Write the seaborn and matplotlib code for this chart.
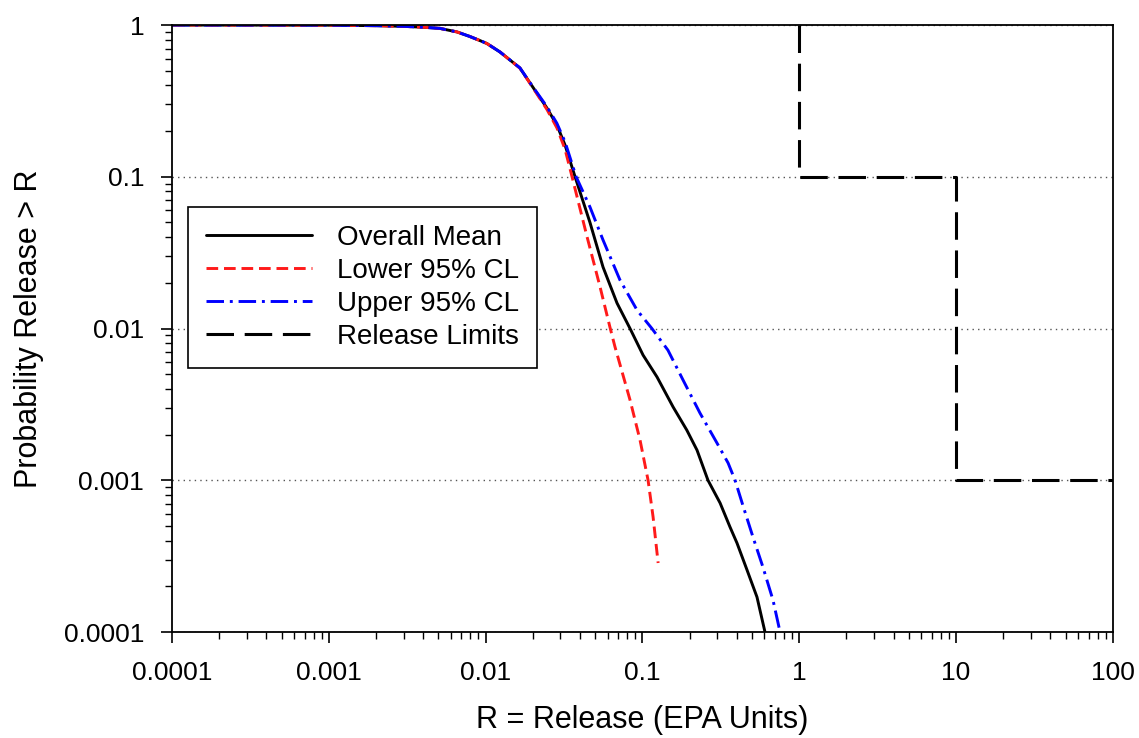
import numpy as np
import pandas as pd
import matplotlib
matplotlib.use("Agg")
import matplotlib.pyplot as plt
import seaborn as sns

# values (log-log CCDF of release)
mean_x = [1e-4, 0.001, 0.002, 0.003, 0.004, 0.00512, 0.00658, 0.00794, 0.0092, 0.0102, 0.01236,
          0.01655, 0.02, 0.0246, 0.0285, 0.0321, 0.0372, 0.0463, 0.0561, 0.0689, 0.0834, 0.101,
          0.124, 0.157, 0.192, 0.223, 0.262, 0.313, 0.362, 0.401, 0.465, 0.538, 0.605]
mean_y = [1.0, 0.998, 0.99, 0.98, 0.967, 0.95, 0.9, 0.84, 0.79, 0.755, 0.664,
          0.521, 0.39, 0.284, 0.219, 0.162, 0.1, 0.05, 0.0254, 0.0147, 0.01, 0.00668,
          0.00479, 0.00304, 0.00214, 0.00158, 0.001, 0.000708, 0.000492, 0.000386, 0.000256, 0.00017, 0.0001]

lower_x = [1e-4, 0.001, 0.002, 0.003, 0.004, 0.00512, 0.00658, 0.00794, 0.0092, 0.0102, 0.01236,
           0.01655, 0.02, 0.0246, 0.0285, 0.0321, 0.0356, 0.0444, 0.0537, 0.0621, 0.0668, 0.0834,
           0.0966, 0.1087, 0.117, 0.126]
lower_y = [1.0, 0.998, 0.99, 0.98, 0.967, 0.95, 0.9, 0.84, 0.79, 0.755, 0.664,
           0.52, 0.387, 0.278, 0.21, 0.152, 0.1, 0.0401, 0.0188, 0.0102, 0.0076, 0.00338,
           0.00184, 0.001, 0.000573, 0.000285]

upper_x = [1e-4, 0.001, 0.002, 0.003, 0.004, 0.00512, 0.00658, 0.00794, 0.0092, 0.0102, 0.01236,
           0.01655, 0.02, 0.0246, 0.0285, 0.0321, 0.0378, 0.0463, 0.0561, 0.0719, 0.0925, 0.115,
           0.1455, 0.1816, 0.233, 0.299, 0.352, 0.39, 0.438, 0.507, 0.587, 0.681, 0.755]
upper_y = [1.0, 0.998, 0.99, 0.98, 0.967, 0.95, 0.9, 0.84, 0.79, 0.755, 0.664,
           0.522, 0.392, 0.29, 0.225, 0.17, 0.1, 0.0632, 0.0383, 0.0209, 0.0132, 0.01,
           0.0072, 0.00458, 0.00277, 0.00176, 0.0013, 0.001, 0.00068, 0.000423, 0.000268, 0.000162, 0.0001]

limit_x = [1, 1, 10, 10, 100]
limit_y = [1, 0.1, 0.1, 0.001, 0.001]

tick_vals = [0.0001, 0.001, 0.01, 0.1, 1, 10, 100]
tick_labels = ["0.0001", "0.001", "0.01", "0.1", "1", "10", "100"]

sns.set_style("ticks")
plt.rcParams["font.family"] = ["Liberation Sans", "DejaVu Sans"]
plt.rcParams["text.color"] = "black"
plt.rcParams["axes.labelcolor"] = "black"

fig = plt.figure(figsize=(11.39, 7.38), dpi=100)
ax = fig.add_axes([0.151, 0.1436, 0.826, 0.8225])

sns.lineplot(x=mean_x, y=mean_y, ax=ax, color="black", lw=2.1, estimator=None, sort=False,
             label="Overall Mean")
sns.lineplot(x=lower_x, y=lower_y, ax=ax, color="#ff1a1a", lw=2.1, ls=(0, (4, 2)), estimator=None,
             sort=False, label="Lower 95% CL")
sns.lineplot(x=upper_x, y=upper_y, ax=ax, color="#0000ff", lw=2.1, ls=(0, (6, 2, 1, 2)), estimator=None,
             sort=False, label="Upper 95% CL")
sns.lineplot(x=limit_x, y=limit_y, ax=ax, color="black", lw=2.2, ls=(0, (9, 3.5)), estimator=None,
             sort=False, label="Release Limits")

ax.set_xscale("log")
ax.set_yscale("log")
ax.set_xlim(1e-4, 100)
ax.set_ylim(1e-4, 1)

ax.set_xticks(tick_vals)
ax.set_xticklabels(tick_labels)
ax.set_yticks(tick_vals[:5])
ax.set_yticklabels(tick_labels[:5])

ax.yaxis.grid(True, which="major", color="#555555", ls=(0, (1, 3)), lw=1)
ax.xaxis.grid(False)

for s in ax.spines.values():
    s.set_linewidth(1.3)
    s.set_color("black")

ax.tick_params(which="major", direction="out", length=8, width=1.2, labelsize=19,
               color="black", labelcolor="black")
ax.tick_params(which="minor", direction="out", length=5, width=1.0, color="black")
ax.tick_params(axis="x", which="major", pad=13)
ax.tick_params(axis="y", which="major", pad=12)

ax.set_xlabel("R = Release (EPA Units)", fontsize=22, labelpad=14)
ax.set_ylabel("Probability Release > R", fontsize=22, labelpad=14)

leg = ax.legend(loc="upper left", bbox_to_anchor=(0.017, 0.700), borderaxespad=0, fontsize=20,
                handlelength=3.8, handletextpad=0.9, labelspacing=0.25, borderpad=0.65,
                fancybox=False, framealpha=1, edgecolor="black")
leg.get_frame().set_linewidth(1.2)

fig.savefig("out.png", dpi=100)
